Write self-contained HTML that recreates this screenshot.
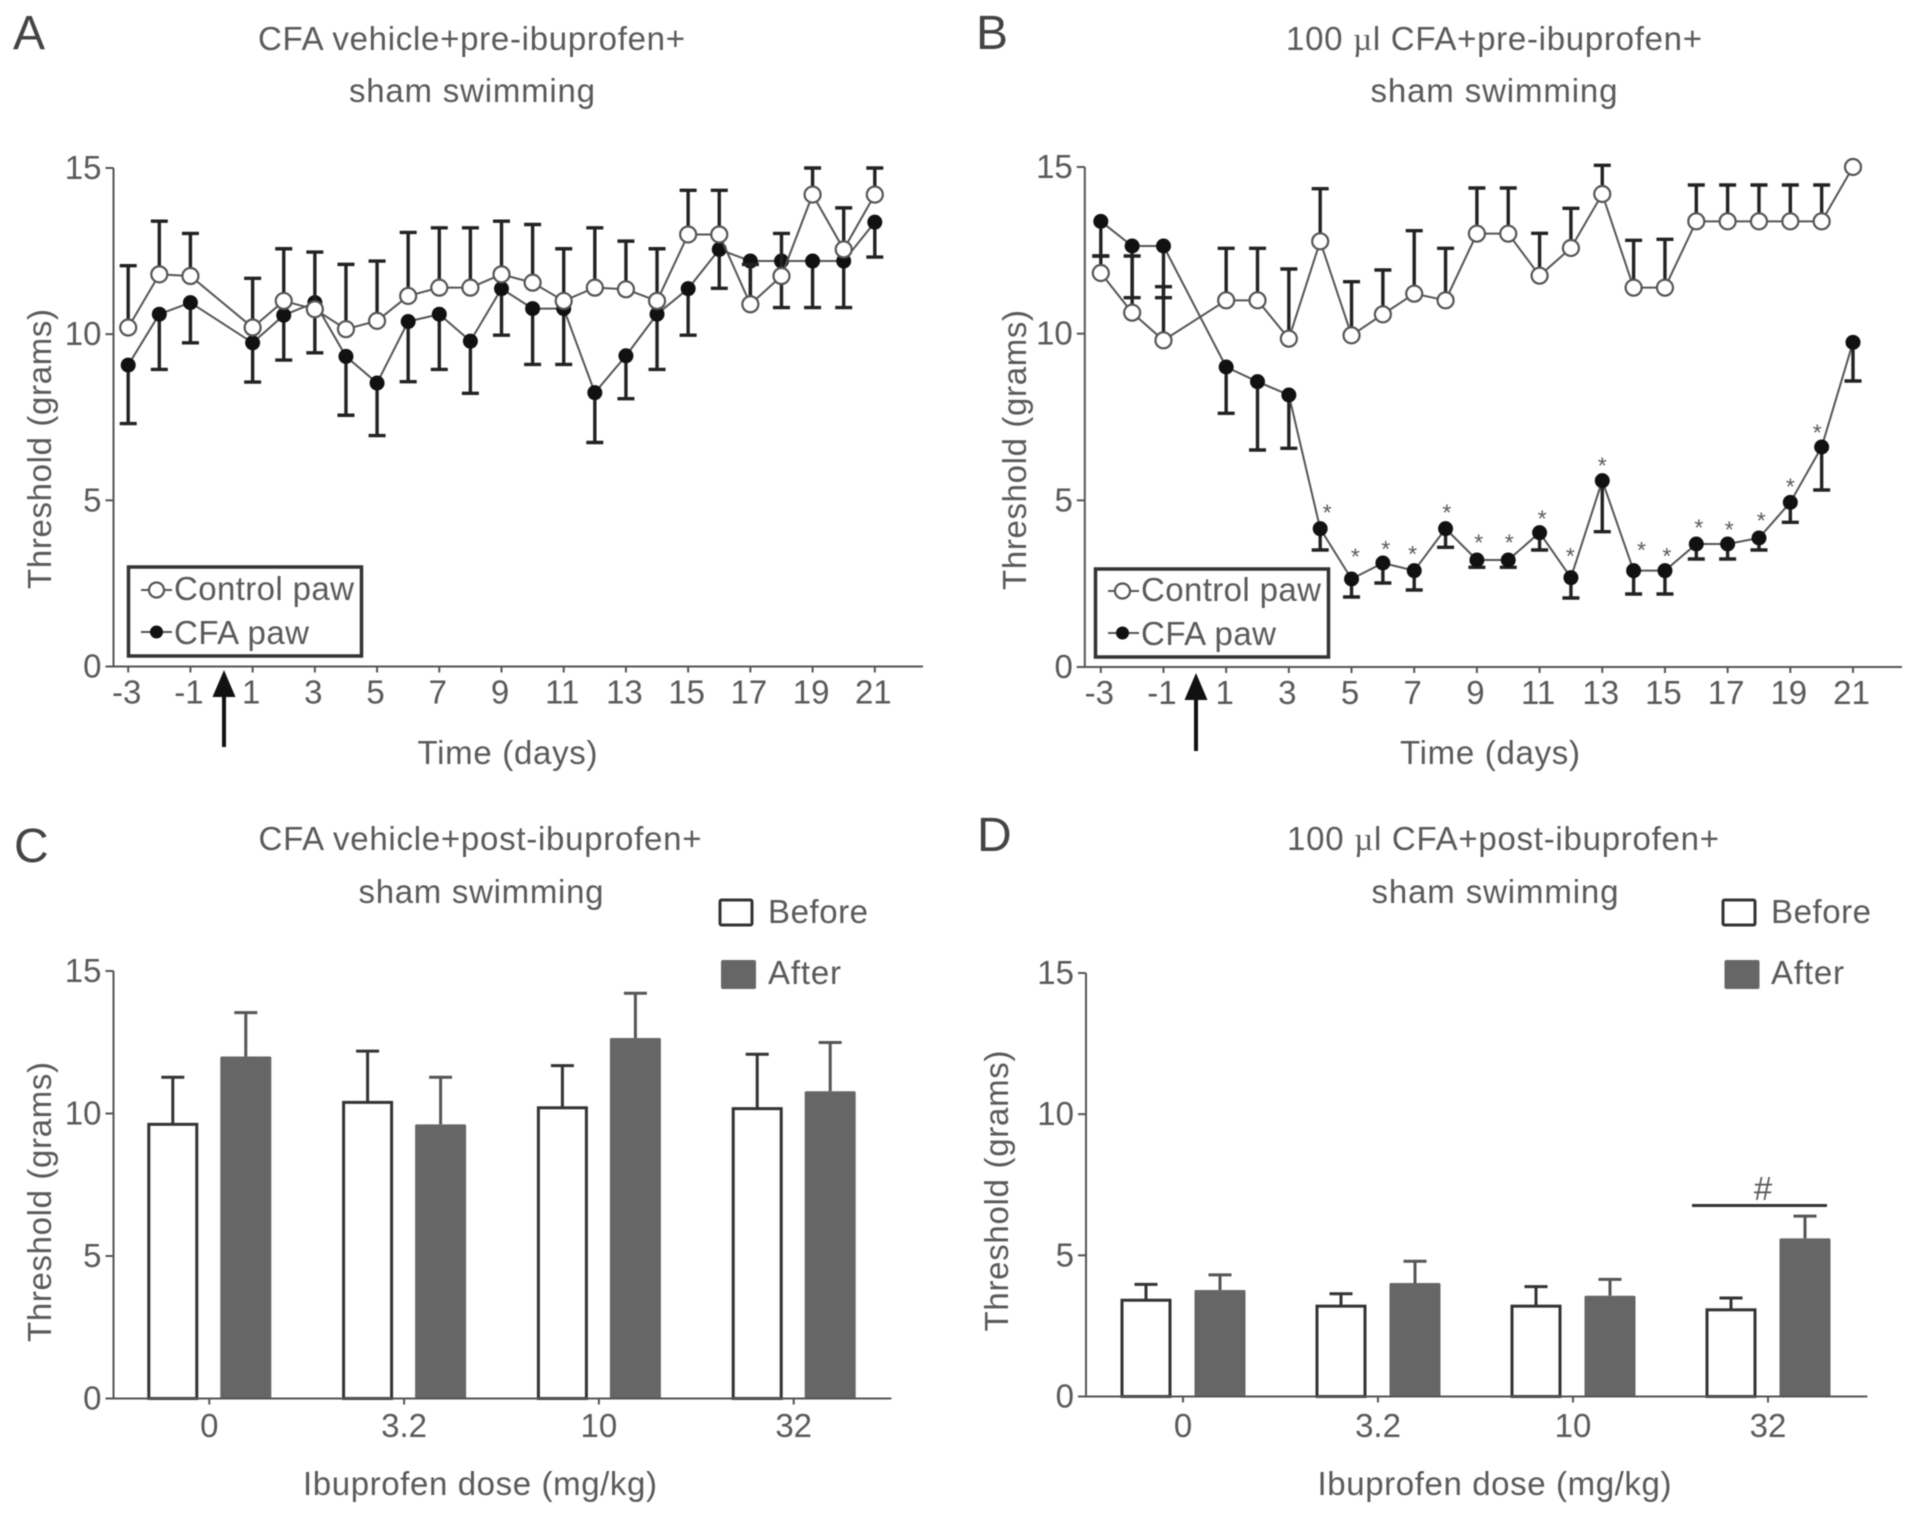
<!DOCTYPE html>
<html lang="en">
<head>
<meta charset="utf-8">
<title>Threshold charts</title>
<style>
html,body{margin:0;padding:0;background:#fff;width:1913px;height:1515px;overflow:hidden}
svg{display:block;filter:blur(0.55px)}
text{font-family:"Liberation Sans",sans-serif;fill:#5a5a5a;font-size:33px}
.lt{fill:#444;font-size:48px}
</style>
</head>
<body>
<svg id="fig" xmlns="http://www.w3.org/2000/svg" width="1913" height="1515" viewBox="0 0 1913 1515">
  <rect width="1913" height="1515" fill="#fff"/>

  <text class="lt" x="13" y="49">A</text>
  <text class="lt" x="976" y="49">B</text>
  <text class="lt" x="14" y="862">C</text>
  <text class="lt" x="977" y="851">D</text>

  <text x="471.500" y="50" text-anchor="middle" textLength="427">CFA vehicle+pre-ibuprofen+</text>
  <text x="472" y="102" text-anchor="middle" textLength="246">sham swimming</text>
  <text x="1494" y="50" text-anchor="middle" textLength="416">100 <tspan style="font-family:'Liberation Serif',serif">µ</tspan>l CFA+pre-ibuprofen+</text>
  <text x="1494" y="102" text-anchor="middle" textLength="247">sham swimming</text>
  <text x="480" y="850" text-anchor="middle" textLength="443">CFA vehicle+post-ibuprofen+</text>
  <text x="481" y="903" text-anchor="middle" textLength="245">sham swimming</text>
  <text x="1503" y="850" text-anchor="middle" textLength="432">100 <tspan style="font-family:'Liberation Serif',serif">µ</tspan>l CFA+post-ibuprofen+</text>
  <text x="1495" y="903" text-anchor="middle" textLength="247">sham swimming</text>

  <text transform="translate(51,449) rotate(-90)" text-anchor="middle" textLength="280">Threshold (grams)</text>
  <text transform="translate(1026,450) rotate(-90)" text-anchor="middle" textLength="280">Threshold (grams)</text>
  <text transform="translate(51,1202) rotate(-90)" text-anchor="middle" textLength="280">Threshold (grams)</text>
  <text transform="translate(1008,1191) rotate(-90)" text-anchor="middle" textLength="281">Threshold (grams)</text>

  <text x="507.500" y="764" text-anchor="middle" textLength="180">Time (days)</text>
  <text x="1490" y="764" text-anchor="middle" textLength="180">Time (days)</text>
  <text x="480" y="1495" text-anchor="middle" textLength="354">Ibuprofen dose (mg/kg)</text>
  <text x="1494.500" y="1495" text-anchor="middle" textLength="354">Ibuprofen dose (mg/kg)</text>

  <g id="chartA"></g>
  <g id="chartB"></g>
  <g id="chartC"></g>
  <g id="chartD"></g>

  <g>
    <rect x="128.500" y="567" width="233" height="89" fill="#fff" stroke="#333" stroke-width="3.5"/>
    <line x1="141" x2="172" y1="590" y2="590" stroke="#555" stroke-width="2"/>
    <circle cx="156.500" cy="590" r="7.5" fill="#fff" stroke="#555" stroke-width="2.2"/>
    <text x="174" y="600" textLength="180">Control paw</text>
    <line x1="141" x2="172" y1="632" y2="632" stroke="#555" stroke-width="2"/>
    <circle cx="156.500" cy="632" r="6.5" fill="#111"/>
    <text x="174" y="644" textLength="135">CFA paw</text>
  </g>
  <g>
    <rect x="1095.500" y="569" width="233" height="88" fill="#fff" stroke="#333" stroke-width="3.5"/>
    <line x1="1108" x2="1139" y1="591" y2="591" stroke="#555" stroke-width="2"/>
    <circle cx="1122.500" cy="591" r="7.5" fill="#fff" stroke="#555" stroke-width="2.2"/>
    <text x="1141" y="601" textLength="180">Control paw</text>
    <line x1="1108" x2="1139" y1="633" y2="633" stroke="#555" stroke-width="2"/>
    <circle cx="1122.500" cy="633" r="6.5" fill="#111"/>
    <text x="1141" y="645" textLength="135">CFA paw</text>
  </g>

  <g>
    <rect x="720" y="900" width="32" height="25" rx="1.5" fill="#fff" stroke="#333" stroke-width="3"/>
    <text x="768" y="923" textLength="100">Before</text>
    <rect x="721" y="960" width="35" height="29" rx="2" fill="#666"/>
    <text x="768" y="984" textLength="73">After</text>
  </g>
  <g>
    <rect x="1723" y="900" width="32" height="25" rx="1.5" fill="#fff" stroke="#333" stroke-width="3"/>
    <text x="1771" y="923" textLength="100">Before</text>
    <rect x="1724.500" y="960" width="35" height="29" rx="2" fill="#666"/>
    <text x="1771" y="984" textLength="73">After</text>
  </g>

  <g>
    <line x1="224" x2="224" y1="690" y2="747" stroke="#111" stroke-width="4"/>
    <polygon points="224,670 235.500,697 212.500,697" fill="#111"/>
  </g>
  <g>
    <line x1="1196" x2="1196" y1="692" y2="751" stroke="#111" stroke-width="4"/>
    <polygon points="1196,673 1207.500,700 1184.500,700" fill="#111"/>
  </g>

  <line x1="1692" x2="1827" y1="1205.500" y2="1205.500" stroke="#333" stroke-width="3"/>
  <text x="1763" y="1200" text-anchor="middle">#</text>
</svg>

<script>
// ---------- shared tick labels ----------
const yTicks = [0, 5, 10, 15];
const dayTicks = [-3, -1, 1, 3, 5, 7, 9, 11, 13, 15, 17, 19, 21];
const days = [-3, -2, -1, 1, 2, 3, 4, 5, 6, 7, 8, 9, 10, 11, 12, 13, 14, 15, 16, 17, 18, 19, 20, 21];
const doseLabels = ['0', '3.2', '10', '32'];

// ---------- panel A ----------
const aControl = [10.2, 11.8, 11.75, 10.2, 11, 10.75, 10.15, 10.4, 11.15, 11.4, 11.4, 11.8, 11.55, 11, 11.4, 11.35, 11, 13, 13, 10.9, 11.75, 14.2, 12.55, 14.2];
const aControlUpper = [12.06, 13.4, 13.03, 11.68, 12.57, 12.47, 12.1, 12.2, 13.06, 13.2, 13.2, 13.4, 13.3, 12.57, 13.2, 12.8, 12.57, 14.33, 14.33, 12.1, 13.03, 15, 13.8, 15];
const aCfa = [9.07, 10.6, 10.95, 9.74, 10.57, 10.95, 9.33, 8.53, 10.38, 10.6, 9.79, 11.37, 10.77, 10.77, 8.24, 9.35, 10.6, 11.37, 12.55, 12.2, 12.2, 12.2, 12.2, 13.37];
const aCfaLower = [7.31, 8.94, 9.74, 8.56, 9.22, 9.44, 7.56, 6.95, 8.57, 8.94, 8.22, 9.97, 9.09, 9.09, 6.74, 8.06, 8.94, 9.97, 11.38, 10.9, 10.8, 10.8, 10.8, 12.32];

// ---------- panel B ----------
const bControl = [11.82, 10.63, 9.8, 11, 11, 9.85, 12.77, 9.95, 10.58, 11.2, 11, 13, 13, 11.74, 12.57, 14.19, 11.38, 11.38, 13.37, 13.37, 13.37, 13.37, 13.37, 15];
const bControlUpper = [12.33, 12.33, 11.41, 12.56, 12.56, 11.94, 14.35, 11.56, 11.91, 13.09, 12.56, 14.37, 14.37, 13.01, 13.76, 15.05, 12.8, 12.83, 14.46, 14.46, 14.46, 14.46, 14.46, 15];
const bCfa = [13.37, 12.63, 12.63, 9, 8.56, 8.16, 4.15, 2.64, 3.12, 2.89, 4.15, 3.21, 3.21, 4.03, 2.68, 5.59, 2.89, 2.89, 3.69, 3.69, 3.87, 4.94, 6.6, 9.74];
const bCfaLower = [12.33, 11.08, 11.08, 7.61, 6.51, 6.56, 3.51, 2.1, 2.52, 2.31, 3.59, 2.99, 2.99, 3.51, 2.07, 4.06, 2.19, 2.19, 3.24, 3.24, 3.51, 4.34, 5.31, 8.58];
const bStarDays = [4.22, 5.12, 6.09, 6.95, 8.04, 9.06, 10.03, 11.08, 11.98, 13, 14.25, 15.06, 16.08, 17.05, 18.07, 19, 19.86];
const bStarLevels = [4.7, 3.38, 3.6, 3.45, 4.7, 3.8, 3.8, 4.52, 3.39, 6.1, 3.57, 3.39, 4.24, 4.19, 4.45, 5.47, 7.1];

// ---------- panel C ----------
const cBefore = [9.62, 10.39, 10.2, 10.17];
const cBeforeErr = [11.27, 12.19, 11.68, 12.08];
const cAfter = [12, 9.62, 12.65, 10.78];
const cAfterErr = [13.54, 11.27, 14.22, 12.49];

// ---------- panel D ----------
const dBefore = [3.41, 3.2, 3.2, 3.07];
const dBeforeErr = [3.97, 3.64, 3.89, 3.49];
const dAfter = [3.77, 4.02, 3.57, 5.6];
const dAfterErr = [4.31, 4.79, 4.15, 6.39];

const NS = 'http://www.w3.org/2000/svg';
function make(tag, attrs, parent) {
  const n = document.createElementNS(NS, tag);
  for (const k in attrs) n.setAttribute(k, attrs[k]);
  parent.appendChild(n);
  return n;
}

function yAxis(g, ax, yOf, topVal) {
  const axis = make('line', {x1: ax, x2: ax, y1: yOf(0), y2: yOf(topVal), stroke: '#555', 'stroke-width': 2}, g);
  
  
  yTicks.forEach(function (v) {
    const t = make('line', {x1: ax - 8, x2: ax, y1: yOf(v), y2: yOf(v), stroke: '#555', 'stroke-width': 2}, g);
    
    
    const lab = make('text', {x: ax - 12, y: yOf(v) + 11, 'text-anchor': 'end'}, g);
    lab.textContent = v;
    
    
  });
}

function errorBar(g, x, y1, y2, capW, color, w, name) {
  const s = make('line', {x1: x, x2: x, y1: y1, y2: y2, stroke: color, 'stroke-width': w}, g);
  
  
  const c = make('line', {x1: x - capW / 2, x2: x + capW / 2, y1: y2, y2: y2, stroke: color, 'stroke-width': w}, g);
  
  
}

function lineChart(id, o) {
  const g = document.getElementById(id);
  const xOf = function (d) { return o.x0 + (d + 3) * (o.x1 - o.x0) / 24; };
  const yOf = function (v) { return o.y0 + (o.y15 - o.y0) * v / 15; };
  yAxis(g, o.ax, yOf, 15);
  const base = make('line', {x1: o.ax - 8, x2: o.axEnd, y1: o.y0, y2: o.y0, stroke: '#555', 'stroke-width': 2}, g);
  
  
  dayTicks.forEach(function (d) {
    const t = make('line', {x1: xOf(d), x2: xOf(d), y1: o.y0, y2: o.y0 + 6, stroke: '#555', 'stroke-width': 2}, g);
    
    
    const lab = make('text', {x: xOf(d) - 1.5, y: o.y0 + 37, 'text-anchor': 'middle'}, g);
    lab.textContent = d;
    
    
  });
  const drawSeries = function (vals, errs, filled, name) {
    days.forEach(function (d, i) {
      if (Math.abs(errs[i] - vals[i]) > 0.001) {
        errorBar(g, xOf(d), yOf(vals[i]), yOf(errs[i]), 17, '#222', 3.4, name + '-error');
      }
    });
    const pts = days.map(function (d, i) { return xOf(d) + ',' + yOf(vals[i]); }).join(' ');
    const pl = make('polyline', {points: pts, fill: 'none', stroke: '#555', 'stroke-width': 2}, g);
    
    
    days.forEach(function (d, i) {
      const attrs = filled
        ? {cx: xOf(d), cy: yOf(vals[i]), r: 7.5, fill: '#111'}
        : {cx: xOf(d), cy: yOf(vals[i]), r: 8, fill: '#fff', stroke: '#555', 'stroke-width': 2.2};
      const c = make('circle', attrs, g);
      
      
    });
  };
  drawSeries(o.cfa, o.cfaLow, true, 'cfa-paw');
  drawSeries(o.control, o.controlUp, false, 'control-paw');
  if (o.starDays) {
    o.starDays.forEach(function (d, i) {
      const s = make('text', {x: xOf(d), y: yOf(o.starLevels[i]) + 10, 'text-anchor': 'middle', style: 'font-size:23px'}, g);
      s.textContent = '*';
      
      
    });
  }
}

function barChart(id, o) {
  const g = document.getElementById(id);
  const yOf = function (v) { return o.y0 + (o.y15 - o.y0) * v / 15; };
  const xOf = function (i) { return o.first + i * o.step; };
  yAxis(g, o.ax, yOf, 15);
  doseLabels.forEach(function (lab, i) {
    const cx = xOf(i);
    errorBar(g, cx - o.off, yOf(o.before[i]), yOf(o.beforeErr[i]), 23, '#333', 3, 'before-error');
    errorBar(g, cx + o.off, yOf(o.after[i]), yOf(o.afterErr[i]), 23, '#555', 3, 'after-error');
    const b = make('rect', {x: cx - o.off - 24, y: yOf(o.before[i]), width: 48, height: o.y0 - yOf(o.before[i]), fill: '#fff', stroke: '#333', 'stroke-width': 3}, g);
    
    
    const a = make('rect', {x: cx + o.off - 25.5, y: yOf(o.after[i]), width: 51, height: o.y0 - yOf(o.after[i]), fill: '#666', rx: 1.5}, g);
    
    
    const t = make('line', {x1: cx, x2: cx, y1: o.y0, y2: o.y0 + 6, stroke: '#555', 'stroke-width': 2}, g);
    
    
    const txt = make('text', {x: cx, y: 1437, 'text-anchor': 'middle'}, g);
    txt.textContent = lab;
    
    
  });
  const base = make('line', {x1: o.ax - 8, x2: o.axEnd, y1: o.y0, y2: o.y0, stroke: '#555', 'stroke-width': 2}, g);
  
  
}

lineChart('chartA', {ax: 113.5, axEnd: 923, x0: 128.2, x1: 874.8, y0: 666.5, y15: 168,
  control: aControl, controlUp: aControlUpper, cfa: aCfa, cfaLow: aCfaLower});
lineChart('chartB', {ax: 1084.8, axEnd: 1902, x0: 1100.8, x1: 1853, y0: 667, y15: 167,
  control: bControl, controlUp: bControlUpper, cfa: bCfa, cfaLow: bCfaLower,
  starDays: bStarDays, starLevels: bStarLevels});
barChart('chartC', {ax: 113.5, axEnd: 891.4, y0: 1398.5, y15: 971, first: 209.3, step: 194.8, off: 36.5,
  before: cBefore, beforeErr: cBeforeErr, after: cAfter, afterErr: cAfterErr});
barChart('chartD', {ax: 1086, axEnd: 1867.4, y0: 1396.5, y15: 973, first: 1183, step: 195, off: 37,
  before: dBefore, beforeErr: dBeforeErr, after: dAfter, afterErr: dAfterErr});
</script>
</body>
</html>
